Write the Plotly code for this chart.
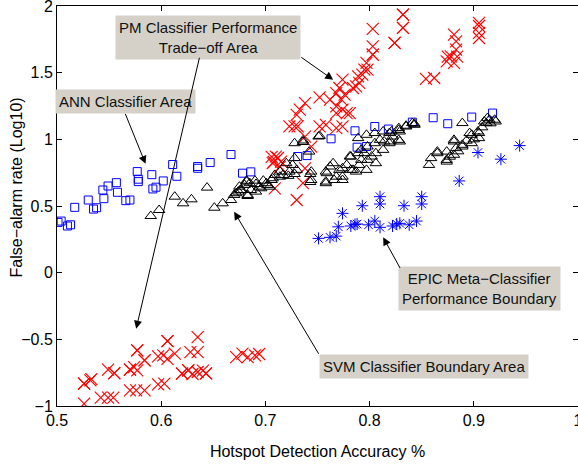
import plotly.graph_objects as go

# ---------------- data ----------------
pm_x = [0.803, 0.832, 0.832, 0.832, 0.832, 0.824, 0.824, 0.803, 0.803, 0.803, 0.797, 0.795, 0.793,
        0.789, 0.790, 0.787, 0.784, 0.774, 0.771, 0.768, 0.776, 0.773, 0.768, 0.774, 0.781, 0.752,
        0.738, 0.733, 0.730, 0.723, 0.728, 0.752, 0.758, 0.768, 0.774, 0.762, 0.798, 0.738, 0.768,
        0.778, 0.731, 0.744,
        0.854, 0.862, 0.874, 0.878, 0.881, 0.883, 0.883, 0.881, 0.905, 0.905, 0.905, 0.905, 0.875, 0.884,
        0.710, 0.715, 0.707, 0.714, 0.709, 0.738, 0.736, 0.730, 0.706, 0.712, 0.708,
        0.526, 0.526, 0.526, 0.532, 0.533, 0.542, 0.549, 0.554, 0.549, 0.555, 0.555, 0.570, 0.570,
        0.574, 0.577, 0.577, 0.577, 0.584, 0.584, 0.570, 0.576, 0.584, 0.597, 0.603, 0.597, 0.602,
        0.606, 0.606, 0.606, 0.613, 0.628, 0.635, 0.635, 0.620, 0.620, 0.626, 0.626, 0.630, 0.635,
        0.640, 0.643, 0.643, 0.672, 0.678, 0.683, 0.690, 0.694]
pm_y = [1.829, 1.936, 1.936, 1.836, 1.836, 1.723, 1.723, 1.698, 1.635, 1.635, 1.573, 1.523, 1.485,
        1.472, 1.423, 1.397, 1.385, 1.447, 1.385, 1.347, 1.335, 1.297, 1.247, 1.222, 1.197, 1.314,
        1.272, 1.222, 1.184, 1.097, 1.097, 1.097, 1.109, 1.084, 1.097, 1.297, 1.523, 1.021, 1.197,
        1.197, 1.097, 0.946,
        1.453, 1.460, 1.585, 1.623, 1.573, 1.673, 1.735, 1.786, 1.874, 1.850, 1.798, 1.760, 1.620, 1.620,
        0.871, 0.833, 0.821, 0.796, 0.633, 0.783, 0.671, 0.545, 0.868, 0.860, 0.830,
        -0.983, -0.833, -0.833, -0.808, -0.799, -0.938, -0.938, -0.938, -0.728, -0.753, -0.753, -0.728, -0.728,
        -0.708, -0.733, -0.583, -0.583, -0.658, -0.658, -0.883, -0.883, -0.883, -0.838, -0.833, -0.628, -0.620,
        -0.513, -0.513, -0.646, -0.608, -0.596, -0.596, -0.483, -0.758, -0.758, -0.733, -0.733, -0.760, -0.745,
        -0.735, -0.755, -0.755, -0.633, -0.608, -0.633, -0.620, -0.610]

ann_x = [0.501, 0.504, 0.510, 0.513, 0.517, 0.530, 0.535, 0.538, 0.545, 0.544, 0.549, 0.557, 0.558,
         0.566, 0.570, 0.577, 0.578, 0.578, 0.591, 0.592, 0.595, 0.602, 0.611, 0.615, 0.635, 0.635,
         0.647, 0.667, 0.678, 0.686, 0.731, 0.740, 0.763, 0.786, 0.788, 0.797, 0.805, 0.818, 0.841,
         0.861, 0.875, 0.898, 0.918]
ann_y = [0.377, 0.387, 0.350, 0.359, 0.490, 0.545, 0.477, 0.487, 0.555, 0.620, 0.650, 0.675, 0.603,
         0.540, 0.545, 0.758, 0.701, 0.683, 0.735, 0.628, 0.641, 0.688, 0.811, 0.723, 0.796, 0.783,
         0.826, 0.886, 0.746, 0.756, 0.871, 0.878, 1.004, 1.064, 0.941, 0.946, 1.096, 1.077, 1.129,
         1.162, 1.117, 1.167, 1.197]

svm_x = [0.590, 0.598, 0.613, 0.621, 0.629, 0.644, 0.651, 0.659, 0.667, 0.672, 0.676, 0.682, 0.683,
         0.670, 0.674, 0.677, 0.682, 0.683, 0.686, 0.690, 0.691, 0.698, 0.696, 0.702, 0.706, 0.709,
         0.714, 0.720, 0.722, 0.728, 0.730, 0.736, 0.728, 0.742, 0.744, 0.744, 0.752, 0.736, 0.743,
         0.743, 0.728, 0.751, 0.675, 0.680, 0.685, 0.691, 0.694, 0.701, 0.704, 0.707, 0.714, 0.717,
         0.726, 0.723,
         0.758, 0.758, 0.765, 0.766, 0.774, 0.774, 0.782, 0.784, 0.790, 0.792, 0.797, 0.798, 0.805,
         0.758, 0.759, 0.768, 0.774, 0.781, 0.782, 0.787, 0.792, 0.797, 0.798, 0.805, 0.806, 0.806,
         0.813, 0.819, 0.819, 0.829, 0.829, 0.835, 0.841, 0.813, 0.820, 0.828, 0.828, 0.843, 0.789,
         0.821, 0.828, 0.835, 0.843, 0.762, 0.771, 0.778, 0.789, 0.795, 0.802, 0.810, 0.814, 0.822,
         0.857, 0.859, 0.865, 0.874, 0.874, 0.881, 0.881, 0.889, 0.898, 0.898, 0.905, 0.912, 0.915,
         0.921, 0.865, 0.874, 0.881, 0.883, 0.889, 0.889, 0.896, 0.904, 0.905, 0.910, 0.913, 0.920,
         0.877, 0.885, 0.893, 0.900, 0.908, 0.916]
svm_y = [0.425, 0.470, 0.570, 0.520, 0.550, 0.638, 0.487, 0.520, 0.545, 0.596, 0.620, 0.683, 0.583,
         0.583, 0.608, 0.620, 0.690, 0.575, 0.620, 0.690, 0.608, 0.690, 0.633, 0.658, 0.695, 0.733,
         0.758, 0.821, 0.726, 0.971, 0.771, 0.991, 0.859, 0.908, 0.758, 0.695, 1.026, 0.980, 0.740,
         0.680, 0.740, 1.021, 0.645, 0.658, 0.671, 0.665, 0.645, 0.671, 0.645, 0.708, 0.720, 0.733,
         0.808, 0.758,
         0.758, 0.671, 0.821, 0.695, 0.783, 0.720, 0.871, 0.771, 0.808, 0.921, 1.034, 0.846, 1.047,
         0.683, 0.746, 0.720, 0.695, 0.871, 0.771, 0.758, 0.846, 0.771, 0.946, 0.971, 0.896, 0.821,
         0.921, 0.971, 1.047, 0.984, 1.059, 1.096, 1.122, 1.059, 0.984, 1.071, 0.996, 1.109, 1.009,
         1.059, 1.084, 1.102, 1.117, 0.796, 0.771, 0.808, 0.896, 0.896, 0.871, 0.996, 0.984, 1.021,
         0.808, 0.859, 0.896, 0.846, 0.908, 0.984, 0.884, 0.959, 1.034, 0.971, 1.047, 1.122, 1.147,
         1.134, 0.908, 0.833, 0.996, 0.934, 1.122, 0.946, 1.047, 1.059, 1.009, 1.134, 1.159, 1.147,
         0.870, 0.910, 0.990, 1.000, 1.090, 1.120]

epic_x = [0.751, 0.762, 0.768, 0.770, 0.774, 0.782, 0.786, 0.788, 0.793, 0.799, 0.805, 0.810, 0.810,
          0.810, 0.822, 0.826, 0.829, 0.833, 0.838, 0.845, 0.850, 0.850, 0.886, 0.904, 0.926, 0.944]
epic_y = [0.257, 0.265, 0.274, 0.344, 0.445, 0.350, 0.362, 0.365, 0.502, 0.359, 0.387, 0.340, 0.570,
          0.515, 0.350, 0.365, 0.370, 0.502, 0.359, 0.387, 0.570, 0.515, 0.688, 0.901, 0.851, 0.953]

x_ticks = [0.5, 0.6, 0.7, 0.8, 0.9, 1.0]
x_labels = ["0.5", "0.6", "0.7", "0.8", "0.9", "1"]
y_ticks = [-1, -0.5, 0, 0.5, 1, 1.5, 2]
y_labels = ["\u22121", "\u22120.5", "0", "0.5", "1", "1.5", "2"]

FONT = "Liberation Sans, Arial, Helvetica, sans-serif"
BOXBG = "#d5d1c9"

fig = go.Figure()
fig.add_trace(go.Scatter(x=pm_x, y=pm_y, mode="markers", name="PM",
                         marker=dict(symbol="x-thin-open", size=12, color="#ff0000",
                                     line=dict(width=1.1, color="#ff0000"))))
fig.add_trace(go.Scatter(x=ann_x, y=ann_y, mode="markers", name="ANN",
                         marker=dict(symbol="square-open", size=8, color="#0000ff",
                                     line=dict(width=1, color="#0000ff"))))
fig.add_trace(go.Scatter(x=svm_x, y=svm_y, mode="markers", name="SVM",
                         marker=dict(symbol="triangle-up-open", size=10, color="#000000",
                                     line=dict(width=1, color="#000000"))))
fig.add_trace(go.Scatter(x=epic_x, y=epic_y, mode="markers", name="EPIC",
                         marker=dict(symbol="asterisk-open", size=10, color="#0000ff",
                                     line=dict(width=1, color="#0000ff"))))

# text boxes
boxes = [
    (0.645, 1.767, "PM Classifier Performance<br>Trade\u2212off Area"),
    (0.566, 1.284, "ANN Classifier Area"),
    (0.852, -0.702, "SVM Classifier Boundary Area"),
    (0.905, -0.12, "EPIC Meta\u2212Classifier<br>Performance Boundary"),
]
for bx, by, t in boxes:
    fig.add_annotation(x=bx, y=by, xref="x", yref="y", text=t, showarrow=False,
                       bgcolor=BOXBG, borderpad=3, font=dict(family=FONT, size=15, color="#111111"))

# arrows: (tail x, tail y, head x, head y)
arrows = [
    (0.733, 1.623, 0.765, 1.447),
    (0.637, 1.623, 0.576, -0.420),
    (0.565, 1.202, 0.585, 0.816),
    (0.752, -0.620, 0.670, 0.457),
    (0.830, 0.024, 0.813, 0.265),
]
for tx, ty, hx, hy in arrows:
    fig.add_annotation(x=hx, y=hy, ax=tx, ay=ty, xref="x", yref="y", axref="x", ayref="y",
                       text="", showarrow=True, arrowhead=2, arrowsize=1.6, arrowwidth=1,
                       arrowcolor="#000000", standoff=0)

# y-axis title (placed as rotated text, like the reference)
fig.add_annotation(x=-0.077, y=0.546, xref="paper", yref="paper", xanchor="center", yanchor="middle",
                   text="False\u2212alarm rate (Log10)", textangle=-90, showarrow=False,
                   font=dict(family=FONT, size=16, color="black"))

axis_common = dict(showgrid=False, zeroline=False, showline=True, linecolor="black", linewidth=1,
                   mirror="ticks", ticks="inside", ticklen=5, tickcolor="black", automargin=False,
                   ticklabeloverflow="allow",
                   tickfont=dict(family=FONT, size=16, color="black"))
fig.update_xaxes(range=[0.5, 1.0], tickvals=x_ticks, ticktext=x_labels,
                 title=dict(text="Hotspot Detection Accuracy %", font=dict(family=FONT, size=16, color="black"),
                            standoff=17),
                 **axis_common)
fig.update_yaxes(range=[-1, 2], tickvals=y_ticks, ticktext=y_labels, **axis_common)
fig.update_layout(width=578, height=464, plot_bgcolor="white", paper_bgcolor="white",
                  margin=dict(l=57, r=0, t=6, b=58), showlegend=False)
fig.write_html("out.html", config={"displayModeBar": False},
               post_script="document.body.style.margin='0';document.body.style.padding='0';")
